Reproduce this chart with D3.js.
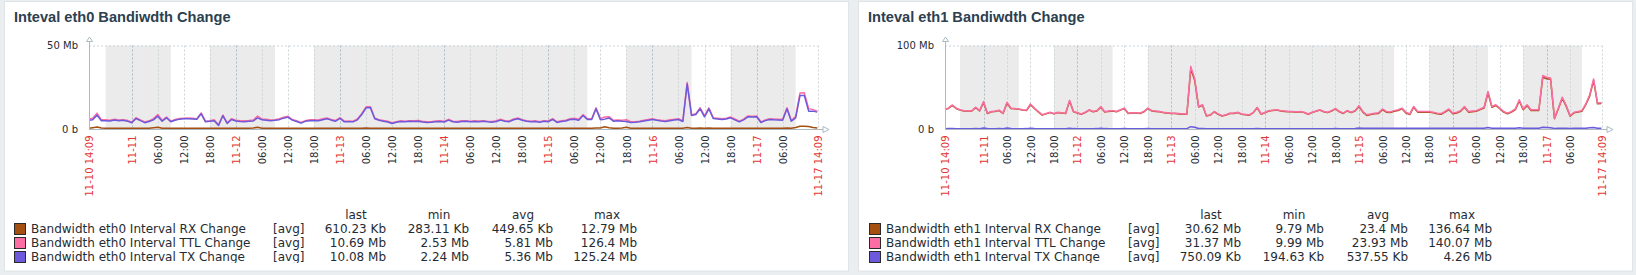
<!DOCTYPE html>
<html>
<head>
<meta charset="utf-8">
<script src="https://cdn.jsdelivr.net/npm/d3@7"></script>
<style>
  body { margin: 0; background: #ebeef0; }
  svg { display: block; }
</style>
</head>
<body>
<svg id="chart" width="1636" height="275"></svg>
<script>
// time range of both graphs and the first hourly trend point
const startTime = new Date(2021, 10, 10, 14, 9);
const endTime = new Date(2021, 10, 17, 14, 9);
const firstPoint = new Date(2021, 10, 10, 14, 0);

// non-working time (shaded grey)
const offPeriods = [
    [new Date(2021, 10, 10, 18), new Date(2021, 10, 11, 9)],
    [new Date(2021, 10, 11, 18), new Date(2021, 10, 12, 9)],
    [new Date(2021, 10, 12, 18), new Date(2021, 10, 15, 9)],
    [new Date(2021, 10, 15, 18), new Date(2021, 10, 16, 9)],
    [new Date(2021, 10, 16, 18), new Date(2021, 10, 17, 9)]
];

// hourly values in Mb - eth0
const eth0Rx = [
    0.45, 0.8, 1.2, 0.6, 0.45, 0.42, 0.44, 0.46, 0.43, 0.45,
    0.44, 0.47, 0.45, 0.43, 0.44, 0.7, 1.0, 0.5, 0.46, 0.44,
    0.45, 0.43, 0.44, 0.46, 0.45, 0.44, 0.48, 0.43, 0.44, 0.45,
    0.42, 0.46, 0.44, 0.45, 0.43, 0.44, 0.45, 0.46, 0.6, 1.0,
    0.5, 0.45, 0.44, 0.43, 0.45, 0.46, 0.47, 0.44, 0.43, 0.42,
    0.44, 0.45, 0.46, 0.44, 0.45, 0.46, 0.44, 0.43, 0.45, 0.44,
    0.43, 0.44, 0.45, 0.5, 0.55, 0.52, 0.46, 0.44, 0.43, 0.42,
    0.41, 0.43, 0.44, 0.43, 0.44, 0.43, 0.44, 0.42, 0.41, 0.42,
    0.43, 0.44, 0.42, 0.45, 0.43, 0.42, 0.43, 0.44, 0.43, 0.44,
    0.43, 0.44, 0.43, 0.42, 0.43, 0.45, 0.44, 0.43, 0.45, 0.46,
    0.44, 0.43, 0.42, 0.43, 0.42, 0.43, 0.44, 0.45, 0.42, 0.43,
    0.44, 0.45, 0.46, 0.45, 0.5, 0.45, 0.44, 0.55, 0.6, 1.3,
    0.8, 0.45, 0.44, 0.6, 1.0, 0.5, 0.43, 0.44, 0.45, 0.44,
    0.45, 0.44, 0.43, 0.44, 0.45, 0.44, 0.45, 0.44, 0.9, 0.5,
    0.5, 0.55, 0.48, 0.55, 0.46, 0.45, 0.44, 0.45, 0.46, 0.45,
    0.43, 0.44, 0.46, 0.46, 0.47, 0.43, 0.44, 0.45, 0.45, 0.44,
    0.45, 0.55, 0.44, 0.9, 1.6, 1.7, 1.5, 0.9, 0.6
];
const eth0Ttl = [
    5.8, 6.4, 9.5, 5.5, 5.5, 5.2, 5.8, 5.4, 5.6, 5.2,
    4.1, 6.8, 5.5, 4.2, 4.9, 6.2, 8.7, 5.2, 7.2, 4.7,
    5.7, 6.3, 6.5, 6.6, 6.5, 6.2, 9.6, 4.7, 5.0, 5.5,
    2.5, 8.4, 3.7, 6.2, 5.2, 4.9, 4.9, 5.1, 5.4, 7.7,
    6.0, 5.8, 5.4, 5.6, 6.1, 7.0, 7.6, 5.7, 4.9, 3.9,
    5.0, 5.5, 5.6, 5.4, 6.1, 6.6, 5.7, 5.1, 6.8, 4.7,
    4.8, 4.7, 6.0, 9.2, 13.3, 13.3, 6.6, 5.6, 5.1, 4.6,
    3.7, 4.4, 4.9, 4.7, 5.0, 4.9, 5.1, 4.6, 4.3, 4.4,
    4.8, 4.9, 4.6, 5.8, 4.7, 4.5, 4.9, 5.0, 4.7, 4.9,
    4.8, 5.0, 4.7, 4.5, 4.9, 5.8, 5.0, 4.8, 6.0, 6.6,
    5.6, 5.0, 4.7, 4.9, 4.4, 5.0, 4.8, 6.2, 4.3, 4.9,
    5.2, 6.2, 6.4, 5.8, 8.6, 6.2, 6.1, 12.7, 6.2, 7.2,
    7.4, 5.2, 5.4, 5.3, 5.5, 4.4, 4.4, 4.7, 5.3, 5.7,
    6.2, 5.6, 5.2, 4.9, 5.5, 5.8, 6.2, 4.9, 27.9, 8.6,
    9.2, 12.7, 7.8, 12.7, 6.8, 6.5, 6.1, 6.5, 7.2, 6.0,
    4.7, 5.9, 7.8, 7.7, 7.8, 4.3, 5.4, 6.2, 6.0, 5.8,
    5.8, 12.7, 5.1, 7.6, 21.6, 21.7, 12.2, 11.6, 10.7
];
const eth0Tx = [
    5.3, 5.6, 8.3, 4.9, 5.0, 4.8, 5.4, 4.9, 5.2, 4.7,
    3.7, 6.3, 5.0, 3.8, 4.5, 5.5, 7.7, 4.7, 6.7, 4.3,
    5.2, 5.9, 6.1, 6.1, 6.0, 5.8, 9.1, 4.3, 4.6, 5.0,
    2.1, 7.9, 3.3, 5.7, 4.8, 4.5, 4.4, 4.6, 4.8, 6.7,
    5.5, 5.3, 5.0, 5.2, 5.6, 6.5, 7.1, 5.3, 4.5, 3.5,
    4.6, 5.0, 5.1, 5.0, 5.6, 6.1, 5.3, 4.7, 6.3, 4.3,
    4.4, 4.3, 5.5, 8.7, 12.7, 12.8, 6.1, 5.2, 4.7, 4.2,
    3.3, 4.0, 4.5, 4.3, 4.6, 4.5, 4.7, 4.2, 3.9, 4.0,
    4.4, 4.5, 4.2, 5.3, 4.3, 4.1, 4.5, 4.6, 4.3, 4.5,
    4.4, 4.6, 4.3, 4.1, 4.5, 5.3, 4.6, 4.4, 5.5, 6.1,
    5.2, 4.6, 4.3, 4.5, 4.0, 4.6, 4.4, 5.7, 3.9, 4.5,
    4.8, 5.7, 5.9, 5.3, 8.1, 5.7, 5.7, 12.1, 5.6, 5.9,
    6.6, 4.7, 5.0, 4.7, 4.5, 3.9, 4.0, 4.3, 4.8, 5.3,
    5.7, 5.2, 4.8, 4.5, 5.0, 5.4, 5.7, 4.5, 27.0, 8.1,
    8.7, 12.1, 7.3, 12.1, 6.3, 6.0, 5.7, 6.0, 6.7, 5.5,
    4.3, 5.5, 7.3, 7.2, 7.3, 3.9, 5.0, 5.7, 5.5, 5.4,
    5.3, 12.1, 4.7, 6.7, 20.0, 20.0, 10.7, 10.7, 10.1
];

// hourly values in Mb - eth1
const eth1Rx = [
    23.6, 24.6, 28.2, 24.6, 22.6, 21.6, 21.6, 21.6, 25.6, 21.6,
    31.8, 18.5, 20.6, 21.1, 22.1, 18.6, 30.8, 24.5, 24.1, 23.6,
    22.6, 22.1, 29.0, 24.5, 20.6, 16.6, 18.1, 19.6, 18.1, 19.6,
    19.1, 18.6, 33.4, 20.6, 19.1, 17.6, 19.6, 22.6, 20.6, 21.6,
    26.0, 20.2, 21.1, 21.6, 20.6, 22.6, 24.6, 18.6, 19.1, 19.1,
    18.6, 20.6, 24.5, 21.6, 21.1, 20.6, 19.6, 19.1, 18.6, 18.6,
    18.1, 17.6, 17.6, 72.2, 58.0, 26.4, 28.5, 15.6, 16.6, 20.6,
    17.6, 15.6, 16.6, 18.6, 18.6, 19.6, 17.6, 17.1, 16.6, 19.6,
    25.4, 17.6, 19.6, 21.6, 22.1, 22.6, 21.6, 21.1, 20.6, 20.6,
    20.1, 20.6, 19.6, 17.6, 19.6, 21.1, 22.6, 20.6, 19.6, 21.6,
    24.1, 20.6, 18.6, 21.6, 19.6, 21.5, 26.8, 20.2, 16.3, 17.2,
    18.2, 18.7, 23.2, 20.2, 19.8, 21.2, 22.2, 24.2, 19.2, 17.3,
    26.1, 20.2, 20.2, 20.2, 20.2, 19.3, 18.2, 17.7, 20.2, 23.2,
    18.2, 19.2, 21.2, 26.1, 20.2, 20.7, 21.2, 23.2, 25.1, 43.2,
    26.0, 28.1, 24.2, 20.2, 18.2, 20.2, 23.2, 33.5, 23.1, 28.0,
    22.2, 22.2, 22.2, 62.0, 60.2, 59.5, 12.3, 24.2, 37.0, 27.1,
    15.3, 19.3, 20.2, 21.2, 29.1, 39.4, 58.2, 30.2, 30.6
];
const eth1Ttl = [
    24, 25, 28.7, 25, 23, 22, 22, 22, 26, 22,
    33, 19, 21, 21.5, 22.5, 19, 32, 25, 24.5, 24,
    23, 22.5, 30, 25, 21, 17, 18.5, 20, 18.5, 20,
    19.5, 19, 34.3, 21, 19.5, 18, 20, 23, 21, 22,
    27, 20.6, 21.5, 22, 21, 23, 25, 19, 19.5, 19.5,
    19, 21, 25, 22, 21.5, 21, 20, 19.5, 19, 19,
    18.5, 18, 18, 75, 60, 27, 29, 16, 17, 21,
    18, 16, 17, 19, 19, 20, 18, 17.5, 17, 20,
    26, 18, 20, 22, 22.5, 23, 22, 21.5, 21, 21,
    20.5, 21, 20, 18, 20, 21.5, 23, 21, 20, 22,
    24.5, 21, 19, 22, 20, 22, 28, 21, 17, 18,
    19, 19.5, 24, 21, 20.5, 22, 23, 25, 20, 18,
    27, 21, 21, 21, 21, 20, 19, 18.5, 21, 24,
    19, 20, 22, 27, 21, 21.5, 22, 24, 26, 45,
    27, 29, 25, 21, 19, 21, 24, 35, 24, 29,
    23, 23, 23, 64, 62, 61, 13, 25, 38, 28,
    16, 20, 21, 22, 30, 41, 60, 31, 31.4
];
const eth1Tx = [
    0.4, 0.45, 0.5, 0.4, 0.38, 0.4, 0.42, 0.4, 0.45, 0.4,
    1.2, 0.5, 0.4, 0.42, 0.45, 0.4, 1.2, 0.5, 0.42, 0.4,
    0.4, 0.45, 1.0, 0.5, 0.4, 0.38, 0.4, 0.42, 0.4, 0.4,
    0.42, 0.4, 0.9, 0.45, 0.4, 0.38, 0.4, 0.42, 0.4, 0.45,
    1.0, 0.45, 0.4, 0.42, 0.4, 0.4, 0.45, 0.4, 0.38, 0.4,
    0.4, 0.42, 0.5, 0.4, 0.4, 0.42, 0.4, 0.38, 0.4, 0.4,
    0.38, 0.4, 0.42, 2.8, 2.0, 0.6, 0.5, 0.4, 0.4, 0.42,
    0.4, 0.38, 0.4, 0.4, 0.42, 0.4, 0.4, 0.38, 0.4, 0.42,
    0.6, 0.4, 0.4, 0.42, 0.4, 0.4, 0.42, 0.4, 0.4, 0.4,
    0.42, 0.4, 0.4, 0.38, 0.4, 0.42, 0.4, 0.4, 0.4, 0.42,
    0.45, 0.4, 0.4, 0.42, 0.4, 0.5, 1.2, 0.8, 0.75, 0.8,
    0.8, 0.78, 0.85, 0.8, 0.75, 0.8, 0.8, 0.85, 0.8, 0.75,
    0.9, 0.8, 0.8, 0.78, 0.8, 0.75, 0.8, 0.8, 0.78, 0.85,
    0.8, 0.8, 0.85, 0.9, 0.8, 0.8, 0.78, 0.8, 0.9, 1.8,
    1.0, 0.9, 0.85, 0.8, 0.78, 0.8, 0.85, 1.5, 0.9, 1.0,
    0.85, 0.8, 0.8, 2.0, 1.8, 1.5, 0.7, 0.8, 1.0, 0.9,
    0.7, 0.75, 0.8, 0.8, 0.9, 1.6, 1.8, 0.8, 0.75
];

// legend
const eth0Names = ["Bandwidth eth0 Interval RX Change", "Bandwidth eth0 Interval TTL Change", "Bandwidth eth0 Interval TX Change"];
const eth1Names = ["Bandwidth eth1 Interval RX Change", "Bandwidth eth1 Interval TTL Change", "Bandwidth eth1 Interval TX Change"];
const statHeaders = ["last", "min", "avg", "max"];
const eth0Stats = [
    ["610.23 Kb", "283.11 Kb", "449.65 Kb", "12.79 Mb"],
    ["10.69 Mb", "2.53 Mb", "5.81 Mb", "126.4 Mb"],
    ["10.08 Mb", "2.24 Mb", "5.36 Mb", "125.24 Mb"]
];
const eth1Stats = [
    ["30.62 Mb", "9.79 Mb", "23.4 Mb", "136.64 Mb"],
    ["31.37 Mb", "9.99 Mb", "23.93 Mb", "140.07 Mb"],
    ["750.09 Kb", "194.63 Kb", "537.55 Kb", "4.26 Mb"]
];

const colors = ["#a54f10", "#fc6ea3", "#6c59dc"];
const font = "'DejaVu Sans', sans-serif";
const textColor = "#1f2c33";
const red = "#e33734";

const svg = d3.select("#chart");
const times = d3.range(eth0Tx.length).map(i => d3.timeHour.offset(firstPoint, i));
const gridTicks = d3.timeHour.every(6).range(new Date(2021, 10, 11), new Date(2021, 10, 17, 7));
const fmtDay = d3.timeFormat("%m-%d"), fmtHour = d3.timeFormat("%H:%M"), fmtFull = d3.timeFormat("%m-%d %H:%M");

function drawChart(c, idx) {
    const g = svg.append("g");

    g.append("rect")
        .attr("x", c.panelX + 0.5).attr("y", 1.5)
        .attr("width", c.panelW - 1).attr("height", 269.5)
        .attr("fill", "#fff").attr("stroke", "#dfe4e7");

    g.append("text")
        .attr("x", c.panelX + 10).attr("y", 22)
        .attr("font-family", "'Liberation Sans', Arial, sans-serif")
        .attr("font-weight", "bold").attr("font-size", 14.6)
        .attr("fill", "#2c4050")
        .text(c.title);

    const x = d3.scaleTime().domain([startTime, endTime]).range([c.left, c.right]).clamp(true);
    const y = d3.scaleLinear().domain([0, c.yMax]).range([c.bottom, c.top]);

    // non-working time
    g.append("g").selectAll("rect").data(offPeriods).join("rect")
        .attr("x", d => x(d[0])).attr("width", d => x(d[1]) - x(d[0]))
        .attr("y", c.top).attr("height", c.bottom - c.top)
        .attr("fill", "#ebebeb");

    // grid
    const grid = g.append("g").attr("stroke-dasharray", "2,2").attr("stroke-width", 1);
    grid.selectAll("line.v").data(gridTicks.concat([endTime])).join("line")
        .attr("x1", d => Math.round(x(d)) + 0.5).attr("x2", d => Math.round(x(d)) + 0.5)
        .attr("y1", c.top).attr("y2", c.bottom)
        .attr("stroke", d => d.getHours() === 0 && d.getMinutes() === 0 ? "#acbbc2" : "#ccd5d9");
    grid.append("line")
        .attr("x1", c.left).attr("x2", c.right)
        .attr("y1", y(c.yMax) + 0.5).attr("y2", y(c.yMax) + 0.5)
        .attr("stroke", "#ccd5d9");

    // series
    const line = d3.line().x((d, i) => x(times[i])).y(d => y(d));
    c.series.forEach((s, i) => {
        g.append("path").datum(s)
            .attr("d", line)
            .attr("fill", "none")
            .attr("stroke", colors[i])
            .attr("stroke-width", 1.5)
            .attr("stroke-linejoin", "round");
    });

    // axis lines with arrows
    const ax = g.append("g").attr("stroke", "#acbbc2").attr("fill", "#fff");
    const lx = c.left + 0.5, by = c.bottom + 0.5;
    ax.append("line").attr("x1", lx).attr("x2", lx).attr("y1", by).attr("y2", c.top - 4);
    ax.append("path").attr("d", `M${lx - 3},${c.top - 4}L${lx + 3},${c.top - 4}L${lx},${c.top - 8.5}Z`);
    ax.append("line").attr("x1", c.left).attr("x2", c.right + 5).attr("y1", by).attr("y2", by);
    ax.append("path").attr("d", `M${c.right + 5},${by - 3}L${c.right + 5},${by + 3}L${c.right + 11},${by}Z`);

    // y axis labels
    const yAxis = g.append("g")
        .attr("transform", `translate(${c.left},0)`)
        .call(d3.axisLeft(y).tickValues([0, c.yMax]).tickSize(0).tickPadding(11)
            .tickFormat(v => v === 0 ? "0 b" : v + " Mb"));
    yAxis.select(".domain").remove();
    yAxis.selectAll("text").attr("font-family", font).attr("font-size", 10).attr("fill", textColor);

    // x axis labels
    const tickVals = [startTime].concat(gridTicks, [endTime]);
    const xAxis = g.append("g")
        .attr("transform", `translate(0,${c.bottom})`)
        .call(d3.axisBottom(x).tickValues(tickVals).tickSize(0)
            .tickFormat(d => (d === startTime || d === endTime) ? fmtFull(d)
                : (d.getHours() === 0 ? fmtDay(d) : fmtHour(d))));
    xAxis.select(".domain").remove();
    xAxis.selectAll("text")
        .attr("transform", "rotate(-90)")
        .attr("x", -6.5).attr("y", 0).attr("dy", "0.36em")
        .attr("text-anchor", "end")
        .attr("font-family", font).attr("font-size", 10)
        .attr("fill", d => (d === startTime || d === endTime || d.getHours() === 0) ? red : textColor);

    // legend (graph image ends just under the last row)
    const clipId = "clip" + idx;
    svg.append("clipPath").attr("id", clipId).append("rect")
        .attr("x", c.panelX).attr("y", 200).attr("width", c.panelW).attr("height", 63);
    const lg = g.append("g").attr("clip-path", `url(#${clipId})`)
        .attr("font-family", font).attr("font-size", 12).attr("fill", textColor);
    const colRight = [372, 455, 539, 623];
    lg.selectAll("text.h").data(statHeaders).join("text")
        .attr("x", (d, i) => c.legendX + colRight[i] - 30).attr("y", 219)
        .attr("text-anchor", "middle").text(d => d);
    c.names.forEach((name, i) => {
        const yb = 233.3 + i * 14;
        lg.append("rect")
            .attr("x", c.legendX + 0.5).attr("y", yb - 9.8)
            .attr("width", 11).attr("height", 11)
            .attr("fill", colors[i]).attr("stroke", "#2a2a2a");
        lg.append("text").attr("x", c.legendX + 17).attr("y", yb).text(name);
        lg.append("text").attr("x", c.legendX + 259).attr("y", yb).text("[avg]");
        c.stats[i].forEach((v, k) => {
            lg.append("text").attr("x", c.legendX + colRight[k]).attr("y", yb)
                .attr("text-anchor", "end").text(v);
        });
    });
}

drawChart({
    panelX: 4, panelW: 845, title: "Inteval eth0 Bandiwdth Change",
    left: 89, right: 818, top: 45.5, bottom: 129, yMax: 50, legendX: 14,
    series: [eth0Rx, eth0Ttl, eth0Tx], names: eth0Names, stats: eth0Stats
}, 0);

drawChart({
    panelX: 858, panelW: 775, title: "Inteval eth1 Bandiwdth Change",
    left: 945, right: 1602, top: 45.5, bottom: 129, yMax: 100, legendX: 869,
    series: [eth1Rx, eth1Ttl, eth1Tx], names: eth1Names, stats: eth1Stats
}, 1);
</script>
</body>
</html>
